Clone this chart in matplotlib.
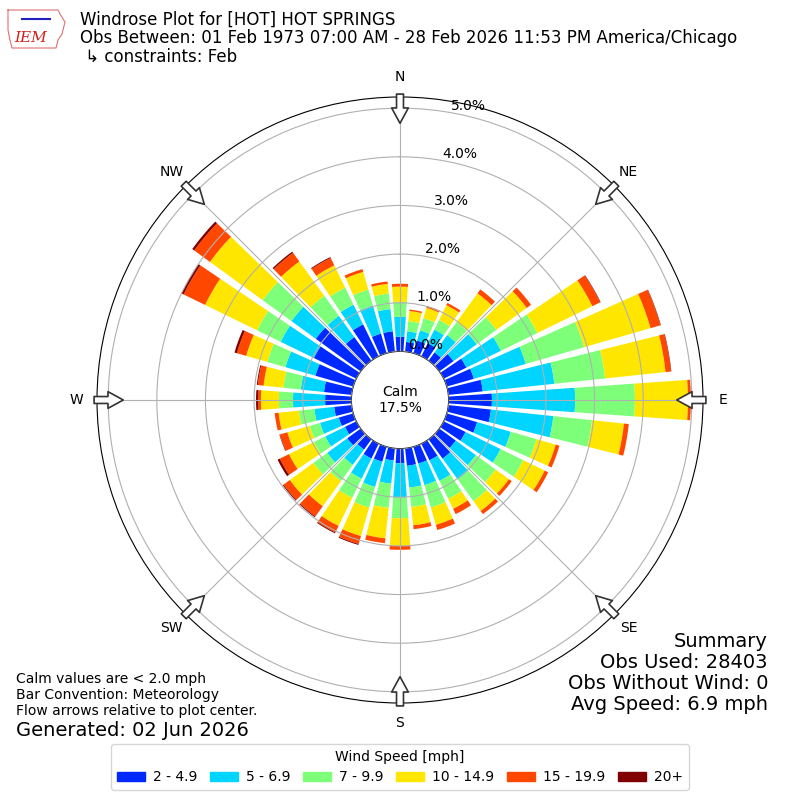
import numpy as np
import matplotlib
matplotlib.use("Agg")
import matplotlib.pyplot as plt
from matplotlib.patches import Rectangle

# ---------------- data ----------------
directions = list(range(0, 360, 10))
speed_bins = ["2 - 4.9", "5 - 6.9", "7 - 9.9", "10 - 14.9", "15 - 19.9", "20+"]
# cumulative frequency (%) at the top of each speed bin, per direction
cum_2 = [0.30, 0.20, 0.27, 0.30, 0.21, 0.36, 0.52, 0.58, 0.71, 0.89, 0.88, 0.65,
         0.50, 0.42, 0.49, 0.38, 0.36, 0.36, 0.30, 0.25, 0.32, 0.34, 0.26, 0.34,
         0.26, 0.31, 0.36, 0.54, 0.57, 0.81, 0.97, 1.14, 0.60, 0.73, 0.42, 0.42]
cum_5 = [0.71, 0.42, 0.49, 0.61, 0.65, 0.95, 1.31, 1.69, 2.19, 2.60, 2.17, 1.37,
         1.30, 0.93, 1.02, 0.85, 0.82, 0.81, 1.00, 0.73, 0.86, 0.80, 0.65, 0.85,
         0.71, 0.71, 0.77, 1.20, 1.05, 1.45, 1.73, 1.76, 1.14, 1.18, 1.02, 0.88]
cum_7 = [1.02, 0.63, 0.75, 0.83, 0.98, 1.45, 2.14, 2.94, 3.24, 3.83, 2.97, 1.92,
         1.82, 1.43, 1.57, 1.26, 1.30, 1.21, 1.43, 1.23, 1.30, 1.24, 1.06, 1.20,
         0.97, 0.93, 1.09, 1.49, 1.41, 1.84, 2.27, 2.49, 1.65, 1.57, 1.36, 1.20]
cum_10 = [1.33, 0.84, 0.97, 1.17, 1.71, 2.22, 3.40, 4.36, 4.49, 4.92, 3.63, 2.33,
          2.31, 1.77, 1.82, 1.49, 1.67, 1.59, 2.00, 1.86, 1.91, 1.88, 1.70, 1.80,
          1.54, 1.41, 1.51, 1.86, 1.82, 2.29, 3.46, 3.83, 2.52, 2.08, 1.74, 1.40]
cum_15 = [1.39, 0.87, 1.01, 1.22, 1.81, 2.33, 3.58, 4.57, 4.60, 4.98, 3.73, 2.41,
          2.39, 1.84, 1.90, 1.61, 1.78, 1.67, 2.08, 1.96, 2.08, 2.03, 1.96, 1.96,
          1.75, 1.57, 1.59, 1.92, 1.94, 2.49, 3.95, 4.23, 2.74, 2.25, 1.80, 1.45]
cum_20 = [1.39, 0.87, 1.01, 1.22, 1.81, 2.33, 3.59, 4.58, 4.61, 4.98, 3.73, 2.41,
          2.39, 1.84, 1.90, 1.61, 1.78, 1.67, 2.08, 1.96, 2.10, 2.05, 1.98, 1.98,
          1.80, 1.58, 1.59, 1.96, 1.96, 2.54, 4.00, 4.28, 2.77, 2.27, 1.80, 1.45]
calm_pct = 17.5
r_ticks = [0, 1, 2, 3, 4, 5]
compass_deg = [0, 45, 90, 135, 180, 225, 270, 315]
compass_lbl = ["N", "NE", "E", "SE", "S", "SW", "W", "NW"]

title = ("Windrose Plot for [HOT] HOT SPRINGS\n"
         "Obs Between: 01 Feb 1973 07:00 AM - 28 Feb 2026 11:53 PM America/Chicago\n"
         " \u21b3 constraints: Feb")
notes = ("Calm values are < 2.0 mph\nBar Convention: Meteorology\n"
         "Flow arrows relative to plot center.")
generated = "Generated: 02 Jun 2026"
summary = "Summary\nObs Used: 28403\nObs Without Wind: 0\nAvg Speed: 6.9 mph"

# ---------------- figure ----------------
colors = [plt.cm.jet(v) for v in np.linspace(0, 1, 7)[1:]]
fig = plt.figure(figsize=(8, 8), dpi=100)
ax = fig.add_axes([97 / 800, 97 / 800, 606 / 800, 606 / 800], projection="polar")
ax.set_theta_zero_location("N")
ax.set_theta_direction(-1)
ax.set_rorigin(-1.0)
ax.set_rlim(0, 5.23)
ax.set_axisbelow(False)

theta = np.deg2rad(directions)
width = np.deg2rad(10) * 0.8
cums = [np.zeros(len(directions))] + [np.array(c) for c in
                                      (cum_2, cum_5, cum_7, cum_10, cum_15, cum_20)]
for i in range(6):
    ax.bar(theta, cums[i + 1] - cums[i], bottom=cums[i], width=width,
           color=colors[i], linewidth=0, zorder=1)

ax.set_rticks(r_ticks)
ax.set_yticklabels([f"{v:.1f}%" for v in r_ticks], fontsize=10)
ax.set_rlabel_position(10)
ax.set_thetagrids(compass_deg, compass_lbl, fontsize=10)
ax.tick_params(axis="x", pad=4)
ax.grid(True, color="#b0b0b0", lw=0.8)

ax.text(0.5, 0.5, f"Calm\n{calm_pct:.1f}%", transform=ax.transAxes,
        ha="center", va="center", fontsize=10, zorder=5)

for d in compass_deg:
    ax.annotate("", xy=(np.deg2rad(d), 4.69), xytext=(np.deg2rad(d), 5.29),
                arrowprops=dict(facecolor="white", edgecolor="#333333",
                                width=5, headwidth=12, headlength=11, lw=1.2),
                annotation_clip=False, zorder=6)

# logo (approximation)
lx = np.array([8, 58, 60, 65, 62, 58, 56, 12, 10, 8, 8]) / 800
ly = 1 - np.array([10, 10, 14, 22, 34, 40, 48, 48, 40, 30, 10]) / 800
fig.add_artist(plt.Line2D(lx, ly, color="#e07070", lw=0.8))
fig.text(31 / 800, 1 - 38 / 800, "IEM", color="#d42020", fontsize=11,
         family="DejaVu Serif", style="italic", ha="center", va="center")
fig.add_artist(plt.Line2D(np.array([22, 50]) / 800, 1 - np.array([19, 19]) / 800,
                          color="#2020c0", lw=1.5))

fig.text(80 / 800, 1 - 38 / 800, title, fontsize=12, va="center", ha="left",
         linespacing=1.05)
fig.text(16 / 800, 1 - 695 / 800, notes, fontsize=10, va="center", ha="left")
fig.text(16 / 800, 1 - 730 / 800, generated, fontsize=14, va="center", ha="left")
fig.text(768 / 800, 1 - 673 / 800, summary, fontsize=14, va="center", ha="right",
         linespacing=1.15)

handles = [Rectangle((0, 0), 1, 1, color=c) for c in colors]
fig.legend(handles, speed_bins, loc="lower center", bbox_to_anchor=(0.5, 10 / 800),
           ncol=6, title="Wind Speed [mph]", fontsize=10, title_fontsize=10,
           borderaxespad=0, columnspacing=0.9, handletextpad=0.6)

fig.savefig("out.png", dpi=100)
